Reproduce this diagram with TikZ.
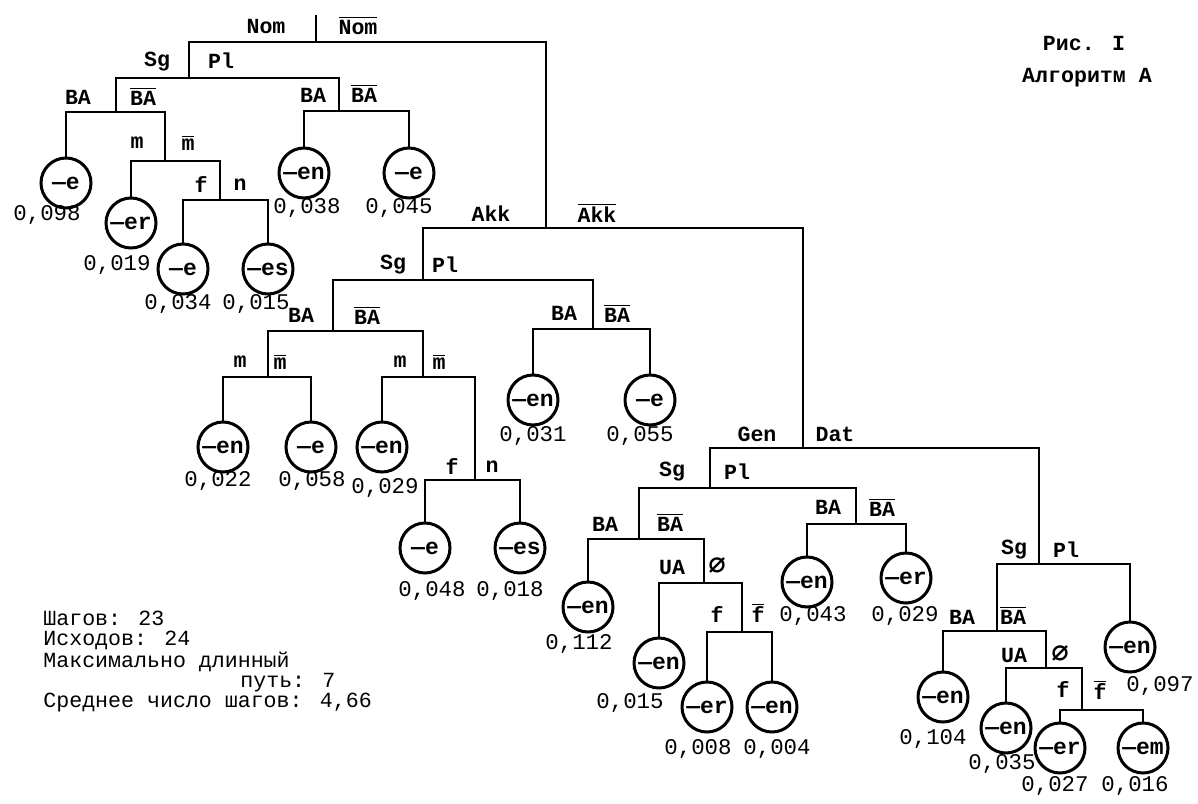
\documentclass[tikz,border=0pt]{standalone}
\usepackage{fontspec}
\setmainfont{Liberation Mono}
\newfontfamily\symf{DejaVu Sans Mono}
\newcommand\ovl[1]{$\overline{\mbox{#1}}$}
\newcommand\nullsym{{\symf\fontsize{14.5}{14.5}\selectfont ∅}}
\tikzset{
  treeline/.style={line width=1pt},
  leafc/.style={circle, draw, line width=1.5pt, minimum size=25pt, inner sep=0pt, font=\bfseries\fontsize{11.5}{12}\selectfont},
  lbl/.style={inner sep=0pt, font=\bfseries\fontsize{10.8}{12}\selectfont},
  val/.style={inner sep=0pt, font=\fontsize{11.2}{12}\selectfont},
  txt/.style={anchor=west, inner sep=0pt, font=\fontsize{10.8}{12}\selectfont},
  captxt/.style={inner sep=0pt, font=\bfseries\fontsize{10.8}{12}\selectfont}
}
\newcommand\leafnode[5]{\node[leafc] (#1) at (#2) {#3}; \node[val] (#1v) at (#4) {#5};}
\newcommand\splitpt[6]{\coordinate (#1) at (#2); \node[lbl] (#1l) at (#3) {#4}; \node[lbl] (#1r) at (#5) {#6};}
\begin{document}
\begin{tikzpicture}[x=0.5pt,y=-0.5pt]
\useasboundingbox (0,0) rectangle (1198,803);
% internal split points
\coordinate (top) at (316,15);
\splitpt{root}{316,42}{266,26}{Nom}{358,25}{\ovl{Nom}}
\splitpt{A}{189,78}{157,62}{Sg}{221,61}{Pl}
\splitpt{B}{116,112}{78,97}{BA}{143,96}{\ovl{BA}}
\splitpt{D}{165,161}{137,143}{m}{188,143}{\ovl{m}}
\splitpt{E}{220,200}{201,185}{f}{240,185}{n}
\splitpt{C}{339,111}{313,95}{BA}{364,93}{\ovl{BA}}
\splitpt{F}{546,228}{491,214}{Akk}{597,213}{\ovl{Akk}}
\splitpt{G}{423,280}{393,265}{Sg}{445,265}{Pl}
\splitpt{I}{333,331}{301,315}{BA}{367,315}{\ovl{BA}}
\splitpt{K}{268,377}{240,362}{m}{280,362}{\ovl{m}}
\splitpt{M}{423,377}{400,362}{m}{439,362}{\ovl{m}}
\splitpt{N}{475,480}{452,467}{f}{492,467}{n}
\splitpt{J}{593,329}{564,313}{BA}{617,313}{\ovl{BA}}
\splitpt{H}{803,448}{757,434}{Gen}{835,434}{Dat}
\splitpt{P}{710,488}{672,472}{Sg}{737,472}{Pl}
\splitpt{R}{639,539}{605,524}{BA}{670,522}{\ovl{BA}}
\splitpt{T}{704,583}{672,567}{UA}{717,566}{\nullsym}
\splitpt{U}{742,632}{717,615}{f}{758,613}{\ovl{f}}
\splitpt{S}{856,524}{828,507}{BA}{882,507}{\ovl{BA}}
\splitpt{Q}{1039,564}{1014,550}{Sg}{1066,550}{Pl}
\splitpt{V}{997,631}{962,617}{BA}{1013,615}{\ovl{BA}}
\splitpt{W}{1046,668}{1014,655}{UA}{1060,654}{\nullsym}
\splitpt{X}{1082,710}{1063,690}{f}{1100,690}{\ovl{f}}
% leaves
\leafnode{L1}{66,183}{—e}{47,215}{0,098}
\leafnode{L2}{131,223}{—er}{117,265}{0,019}
\leafnode{L3}{183,269}{—e}{178,304}{0,034}
\leafnode{L4}{268,269}{—es}{256,304}{0,015}
\leafnode{L5}{304,173}{—en}{307,208}{0,038}
\leafnode{L6}{409,173}{—e}{399,208}{0,045}
\leafnode{L7}{223,447}{—en}{218,481}{0,022}
\leafnode{L8}{311,447}{—e}{312,481}{0,058}
\leafnode{L9}{382,447}{—en}{385,488}{0,029}
\leafnode{L10}{425,548}{—e}{432,591}{0,048}
\leafnode{L11}{520,548}{—es}{510,591}{0,018}
\leafnode{L12}{533,400}{—en}{533,436}{0,031}
\leafnode{L13}{650,400}{—e}{640,436}{0,055}
\leafnode{L14}{588,607}{—en}{579,644}{0,112}
\leafnode{L15}{659,663}{—en}{630,703}{0,015}
\leafnode{L16}{707,707}{—er}{698,749}{0,008}
\leafnode{L17}{772,707}{—en}{777,749}{0,004}
\leafnode{L18}{807,582}{—en}{813,616}{0,043}
\leafnode{L19}{906,578}{—er}{905,616}{0,029}
\leafnode{L20}{1130,647}{—en}{1160,686}{0,097}
\leafnode{L21}{943,697}{—en}{933,739}{0,104}
\leafnode{L22}{1006,728}{—en}{1002,764}{0,035}
\leafnode{L23}{1060,748}{—er}{1055,786}{0,027}
\leafnode{L24}{1143,748}{—em}{1135,786}{0,016}
% connectors
\begin{scope}[treeline]
\draw (top) -- (root);
\draw (A) |- (root) -| (F);
\draw (B) |- (A) -| (C);
\draw (L1.north) |- (B) -| (D);
\draw (L2.north) |- (D) -| (E);
\draw (L3.north) |- (E) -| (L4.north);
\draw (L5.north) |- (C) -| (L6.north);
\draw (G) |- (F) -| (H);
\draw (I) |- (G) -| (J);
\draw (K) |- (I) -| (M);
\draw (L7.north) |- (K) -| (L8.north);
\draw (L9.north) |- (M) -| (N);
\draw (L10.north) |- (N) -| (L11.north);
\draw (L12.north) |- (J) -| (L13.north);
\draw (P) |- (H) -| (Q);
\draw (R) |- (P) -| (S);
\draw (L14.north) |- (R) -| (T);
\draw (L15.north) |- (T) -| (U);
\draw (L16.north) |- (U) -| (L17.north);
\draw (L18.north) |- (S) -| (L19.north);
\draw (V) |- (Q) -| (L20.north);
\draw (L21.north) |- (V) -| (W);
\draw (L22.north) |- (W) -| (X);
\draw (L23.north) |- (X) -| (L24.north);
\end{scope}
% captions
\node[captxt] (cap1) at (1084,43) {Рис. I};
\node[captxt] (cap2) at (1087,78) {Алгоритм A};
% statistics
\node[txt] (s1) at (43,618) {Шагов: 23};
\node[txt] (s2) at (43,640) {Исходов: 24};
\node[txt] (s3) at (43,662) {Максимально длинный};
\node[txt] (s4) at (240,683) {путь: 7};
\node[txt] (s5) at (43,703) {Среднее число шагов: 4,66};
\end{tikzpicture}
\end{document}
